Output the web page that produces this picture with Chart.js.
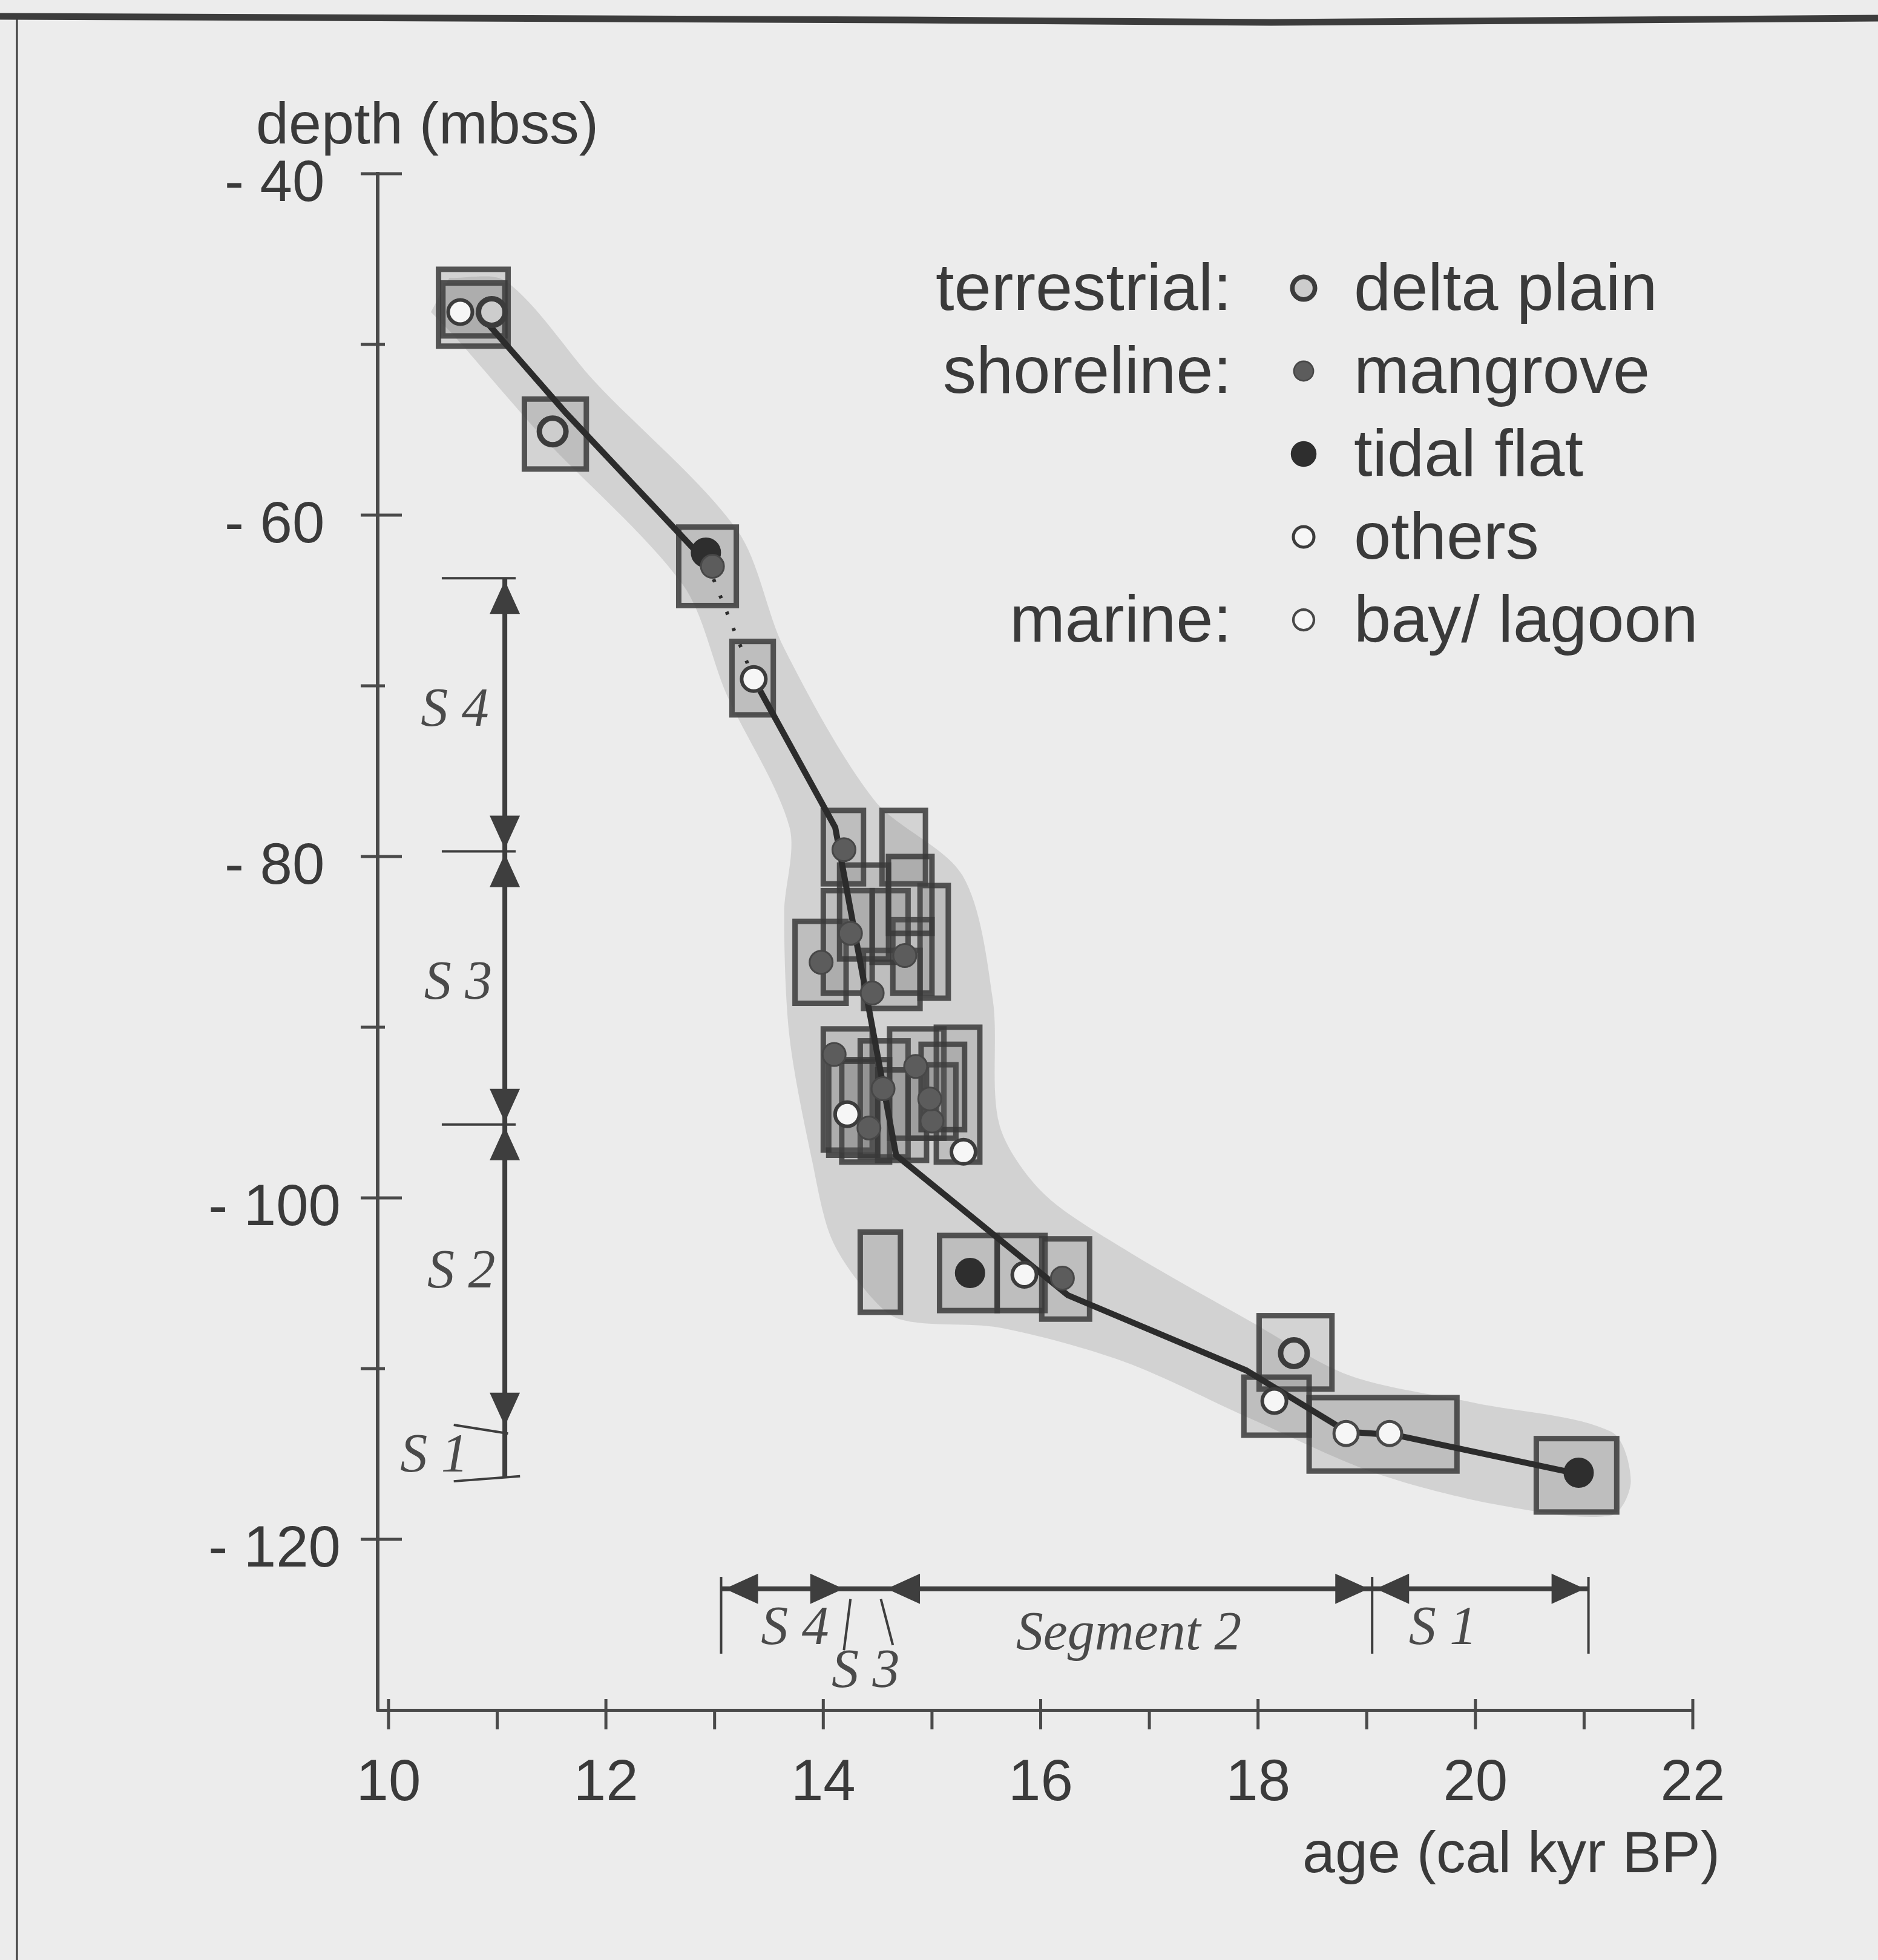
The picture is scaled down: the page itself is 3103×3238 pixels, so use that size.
<!DOCTYPE html>
<html>
<head>
<meta charset="utf-8">
<title>Age-depth curve</title>
<script src="https://cdn.jsdelivr.net/npm/chart.js@4.4.1/dist/chart.umd.min.js"></script>
<style>
    html, body { margin: 0; padding: 0; background: #ececec; }
    #wrap { position: relative; width: 3103px; height: 3238px; }
</style>
</head>
<body>
<div id="wrap"><canvas id="depthChart" width="3103" height="3238"></canvas></div>
<script>
// axis ticks
const ageTicks = [10, 11, 12, 13, 14, 15, 16, 17, 18, 19, 20, 21, 22];
const depthTicks = [-130, -120, -110, -100, -90, -80, -70, -60, -50, -40];

// fitted age-depth curve (cal kyr BP / m below sea surface)
const curveAge   = [10.82, 11.63, 12.93, 13.36, 14.11, 14.67, 16.25, 17.89, 18.82, 19.27, 20.97];
const curveDepth = [-48.1, -54.0, -62.8, -69.6, -78.3, -97.5, -105.7, -110.1, -113.7, -113.9, -116.2];

// outline of the shaded envelope around the curve
const bandAge = [10.56, 11.08, 11.90, 13.21, 13.64, 14.47, 15.28, 15.56, 15.62, 16.02, 16.77, 17.92, 18.84, 19.99, 21.25, 21.43,
                 21.25, 20.22, 19.07, 17.92, 16.77, 15.62, 14.70, 14.36, 14.07, 13.90, 13.69, 13.64, 13.69, 13.11, 12.71, 11.40, 10.59, 10.39];
const bandDepth = [-46.1, -46.3, -52.2, -60.9, -67.8, -76.7, -81.1, -88.4, -95.7, -99.7, -103.0, -107.2, -110.4, -112.0, -113.7, -116.6,
                   -118.6, -118.0, -116.1, -112.9, -109.6, -107.6, -107.1, -105.2, -102.3, -97.9, -90.6, -83.3, -78.3, -70.5, -64.1, -55.3, -49.4, -48.1];

// dating / elevation uncertainty boxes
const boxAgeMin   = [10.46, 10.50, 11.25, 12.67, 13.16, 14.00, 14.54, 13.74, 14.00, 14.89, 14.37, 14.64, 14.45, 14.15, 14.60,
                     14.00, 14.34, 14.61, 15.04, 14.78, 14.17, 14.05, 14.50, 14.90, 14.34, 15.07, 15.60, 16.01, 18.01, 17.87, 18.47, 20.56];
const boxAgeMax   = [11.10, 11.07, 11.82, 13.20, 13.54, 14.37, 14.94, 14.21, 14.45, 15.15, 14.89, 15.00, 14.78, 14.60, 15.00,
                     14.45, 14.78, 15.11, 15.44, 15.22, 14.61, 14.50, 14.95, 15.30, 14.71, 15.60, 16.04, 16.45, 18.68, 18.47, 19.83, 21.30];
const boxDepthTop = [-45.6, -46.4, -53.2, -60.7, -67.4, -77.3, -77.3, -83.8, -82.0, -81.7, -85.5, -83.7, -82.0, -80.5, -80.0,
                     -90.1, -90.8, -90.1, -90.0, -92.2, -91.9, -92.0, -92.5, -91.0, -102.0, -102.2, -102.2, -102.4, -106.9, -110.5, -111.7, -114.1];
const boxDepthBot = [-50.1, -49.5, -57.3, -65.3, -71.7, -81.6, -81.6, -88.6, -88.0, -88.3, -88.9, -88.0, -86.2, -86.0, -84.5,
                     -97.2, -97.6, -96.5, -97.9, -96.5, -97.9, -97.5, -97.8, -96.0, -106.7, -106.6, -106.6, -107.1, -111.2, -113.9, -116.0, -118.4];

// samples by facies
const deltaPlainAge   = [10.95, 11.51, 18.33];
const deltaPlainDepth = [-48.1, -55.1, -109.1];
const mangroveAge     = [12.98, 14.19, 13.98, 14.25, 14.75, 14.45, 14.55, 14.85, 15.00, 14.10, 14.42, 14.98, 16.20];
const mangroveDepth   = [-63.0, -79.6, -86.2, -84.5, -85.8, -88.0, -93.6, -92.3, -95.5, -91.6, -95.9, -94.2, -104.7];
const tidalFlatAge    = [12.92, 15.35, 20.95];
const tidalFlatDepth  = [-62.2, -104.4, -116.1];
const othersAge       = [10.66, 13.36, 14.22, 15.29, 15.85, 18.15];
const othersDepth     = [-48.1, -69.6, -95.1, -97.3, -104.5, -111.9];
const bayLagoonAge    = [18.81, 19.21];
const bayLagoonDepth  = [-113.8, -113.8];

// legend rows
const legendGroups = ['terrestrial:', 'shoreline:', '', '', 'marine:'];
const legendItems  = ['delta plain', 'mangrove', 'tidal flat', 'others', 'bay/ lagoon'];
const legendFacies = ['deltaPlain', 'mangrove', 'tidalFlat', 'others', 'bayLagoon'];

// depth segments (vertical, left) and age segments (horizontal, bottom)
const depthSegAge = 11.07;
const depthSegBounds = [-63.7, -79.7, -95.7, -113.5];
const depthSegBottom = -116.4;
const depthLabelText  = ['S 4', 'S 3', 'S 2', 'S 1'];
const depthLabelAge   = [10.61, 10.64, 10.67, 10.42];
const depthLabelDepth = [-71.5, -87.5, -104.4, -115.2];

const ageSegDepth = -122.9;
const ageSegBounds = [13.06, 14.22, 14.55, 19.05, 21.04];
const ageSegHeads  = [true, false, true, true];
const ageLabelText  = ['S 4', 'S 3', 'Segment 2', 'S 1'];
const ageLabelAge   = [13.74, 14.39, 16.81, 19.70];
const ageLabelDepth = [-125.3, -127.8, -125.6, -125.3];

const FONT = '"Liberation Sans", Arial, Helvetica, sans-serif';
const SERIF = '"Liberation Serif", "Times New Roman", serif';
const INK = '#3a3a3a';
const AXIS = '#4a4a4a';

const faciesStyle = {
    deltaPlain: { r: 22, fill: '#cdcdcd', stroke: '#3c3c3c', w: 9 },
    mangrove:   { r: 19, fill: '#5c5c5c', stroke: '#474747', w: 3 },
    tidalFlat:  { r: 24, fill: '#2e2e2e', stroke: '#2e2e2e', w: 2 },
    others:     { r: 20, fill: '#f6f6f6', stroke: '#3c3c3c', w: 6 },
    bayLagoon:  { r: 20, fill: '#f6f6f6', stroke: '#484848', w: 5 },
};

const xy = (ages, depths) => ages.map((a, i) => ({ x: a, y: depths[i] }));

function pointSet(label, key, ages, depths) {
    const s = faciesStyle[key];
    return {
        label: label,
        data: xy(ages, depths),
        pointRadius: s.r,
        pointBackgroundColor: s.fill,
        pointBorderColor: s.stroke,
        pointBorderWidth: s.w,
        order: 1,
    };
}

function drawLine(ctx, x1, y1, x2, y2) {
    ctx.beginPath();
    ctx.moveTo(x1, y1);
    ctx.lineTo(x2, y2);
    ctx.stroke();
}

function arrowHead(ctx, tx, ty, dx, dy) {
    const len = 55, half = 25;
    const bx = tx - dx * len, by = ty - dy * len;
    ctx.beginPath();
    ctx.moveTo(tx, ty);
    ctx.lineTo(bx - dy * half, by + dx * half);
    ctx.lineTo(bx + dy * half, by - dx * half);
    ctx.closePath();
    ctx.fill();
}

// page frame
const framePlugin = {
    id: 'frame',
    beforeDraw(chart) {
        const ctx = chart.ctx;
        ctx.save();
        ctx.strokeStyle = '#3c3c3c';
        ctx.lineWidth = 11;
        ctx.beginPath();
        ctx.moveTo(0, 27);
        ctx.lineTo(1500, 33);
        ctx.lineTo(2100, 37);
        ctx.lineTo(3103, 30);
        ctx.stroke();
        ctx.lineWidth = 3;
        drawLine(ctx, 28, 28, 28, 3238);
        ctx.restore();
    }
};

// error boxes go under the curve
const boxPlugin = {
    id: 'errorBoxes',
    beforeDatasetDraw(chart, args) {
        if (chart.data.datasets[args.index].label !== 'curve') return;
        const ctx = chart.ctx, sx = chart.scales.x, sy = chart.scales.y;
        ctx.save();
        ctx.lineWidth = 9;
        ctx.strokeStyle = 'rgba(58,58,58,0.85)';
        ctx.fillStyle = 'rgba(90,90,90,0.17)';
        boxAgeMin.forEach((a, i) => {
            const x1 = sx.getPixelForValue(a), x2 = sx.getPixelForValue(boxAgeMax[i]);
            const y1 = sy.getPixelForValue(boxDepthTop[i]), y2 = sy.getPixelForValue(boxDepthBot[i]);
            ctx.fillRect(x1, y1, x2 - x1, y2 - y1);
            ctx.strokeRect(x1, y1, x2 - x1, y2 - y1);
        });
        ctx.restore();
    }
};

// segment arrows and labels
const segmentPlugin = {
    id: 'segments',
    afterDatasetsDraw(chart) {
        const ctx = chart.ctx, sx = chart.scales.x, sy = chart.scales.y;
        const X = v => sx.getPixelForValue(v), Y = v => sy.getPixelForValue(v);
        ctx.save();
        ctx.strokeStyle = '#3e3e3e';
        ctx.fillStyle = '#3e3e3e';

        // vertical segments
        const vx = X(depthSegAge);
        ctx.lineWidth = 8;
        drawLine(ctx, vx, Y(depthSegBounds[0]), vx, Y(depthSegBottom));
        ctx.lineWidth = 4;
        depthSegBounds.slice(0, 3).forEach(d => drawLine(ctx, X(10.49), Y(d), X(11.17), Y(d)));
        drawLine(ctx, X(10.60), Y(-113.3), X(11.10), Y(-113.8));
        drawLine(ctx, X(10.60), Y(-116.6), X(11.21), Y(-116.3));
        for (let i = 0; i < 3; i++) {
            arrowHead(ctx, vx, Y(depthSegBounds[i]) + 4, 0, -1);
            arrowHead(ctx, vx, Y(depthSegBounds[i + 1]) - 4, 0, 1);
        }

        // horizontal segments
        const hy = Y(ageSegDepth);
        ctx.lineWidth = 8;
        drawLine(ctx, X(ageSegBounds[0]), hy, X(ageSegBounds[4]), hy);
        ctx.lineWidth = 4;
        [13.06, 19.05, 21.04].forEach(a => drawLine(ctx, X(a), Y(-122.2), X(a), Y(-126.7)));
        drawLine(ctx, X(14.25), Y(-123.5), X(14.19), Y(-126.5));
        drawLine(ctx, X(14.53), Y(-123.5), X(14.64), Y(-126.2));
        ageSegHeads.forEach((on, i) => {
            if (!on) return;
            arrowHead(ctx, X(ageSegBounds[i]) + 6, hy, -1, 0);
            arrowHead(ctx, X(ageSegBounds[i + 1]) - 6, hy, 1, 0);
        });

        ctx.fillStyle = '#4a4a4a';
        ctx.font = 'italic 90px ' + SERIF;
        ctx.textAlign = 'center';
        ctx.textBaseline = 'middle';
        depthLabelText.forEach((t, i) => ctx.fillText(t, X(depthLabelAge[i]), Y(depthLabelDepth[i])));
        ageLabelText.forEach((t, i) => ctx.fillText(t, X(ageLabelAge[i]), Y(ageLabelDepth[i])));
        ctx.restore();
    }
};

// tick marks crossing the axes, axis titles and legend
const decorPlugin = {
    id: 'decor',
    afterDraw(chart) {
        const ctx = chart.ctx, area = chart.chartArea;
        const sx = chart.scales.x, sy = chart.scales.y;
        ctx.save();
        ctx.strokeStyle = AXIS;
        ctx.lineWidth = 5;
        sy.ticks.forEach(t => {
            if (t.value === sy.min) return;
            const y = sy.getPixelForValue(t.value);
            const major = t.value % 20 === 0;
            drawLine(ctx, area.left - 28, y, area.left + (major ? 40 : 12), y);
        });
        sx.ticks.forEach(t => {
            const x = sx.getPixelForValue(t.value);
            const major = t.value % 2 === 0;
            drawLine(ctx, x, area.bottom - (major ? 18 : 0), x, area.bottom + 32);
        });

        ctx.fillStyle = INK;
        ctx.font = '97px ' + FONT;
        ctx.textBaseline = 'alphabetic';
        ctx.textAlign = 'left';
        ctx.fillText('depth (mbss)', 423, 237);
        ctx.textAlign = 'right';
        ctx.fillText('age (cal kyr BP)', 2842, 3093);

        ctx.font = '110px ' + FONT;
        legendItems.forEach((item, i) => {
            const y = 512 + i * 137;
            if (legendGroups[i]) {
                ctx.textAlign = 'right';
                ctx.fillText(legendGroups[i], 2035, y);
            }
            ctx.textAlign = 'left';
            ctx.fillText(item, 2237, y);
            const s = faciesStyle[legendFacies[i]];
            ctx.beginPath();
            ctx.arc(2154, y - 36, s.r * 0.85, 0, Math.PI * 2);
            ctx.fillStyle = s.fill;
            ctx.fill();
            ctx.lineWidth = s.w * 0.85;
            ctx.strokeStyle = s.stroke;
            ctx.stroke();
            ctx.fillStyle = INK;
        });
        ctx.restore();
    }
};

new Chart(document.getElementById('depthChart'), {
    type: 'scatter',
    data: {
        datasets: [
            {
                label: 'envelope',
                type: 'line',
                data: xy(bandAge, bandDepth),
                fill: 'shape',
                backgroundColor: 'rgba(110,110,110,0.2)',
                borderColor: 'transparent',
                borderWidth: 0,
                pointRadius: 0,
                tension: 0.3,
                order: 4,
            },
            {
                label: 'curve',
                type: 'line',
                data: xy(curveAge, curveDepth),
                borderColor: '#2c2c2c',
                borderWidth: 10,
                pointRadius: 0,
                tension: 0,
                fill: false,
                segment: {
                    borderDash: ctx => ctx.p0DataIndex === 2 ? [5, 24] : undefined,
                    borderWidth: ctx => ctx.p0DataIndex === 2 ? 6 : undefined,
                },
                order: 3,
            },
            pointSet('delta plain', 'deltaPlain', deltaPlainAge, deltaPlainDepth),
            pointSet('mangrove', 'mangrove', mangroveAge, mangroveDepth),
            pointSet('others', 'others', othersAge, othersDepth),
            pointSet('bay/ lagoon', 'bayLagoon', bayLagoonAge, bayLagoonDepth),
            pointSet('tidal flat', 'tidalFlat', tidalFlatAge, tidalFlatDepth),
        ]
    },
    options: {
        responsive: false,
        devicePixelRatio: 1,
        animation: false,
        events: [],
        layout: { padding: { left: 0, top: 287, right: 306, bottom: 113 } },
        plugins: {
            legend: { display: false },
            tooltip: { enabled: false },
        },
        scales: {
            x: {
                type: 'linear',
                min: 9.9,
                max: 22,
                afterBuildTicks: scale => { scale.ticks = ageTicks.map(v => ({ value: v })); },
                afterFit: scale => { scale.height = 300; },
                grid: { display: false, drawTicks: false },
                border: { display: true, color: AXIS, width: 5 },
                ticks: {
                    autoSkip: false,
                    maxRotation: 0,
                    padding: 65,
                    color: INK,
                    font: { family: FONT, size: 96 },
                    callback: v => v % 2 === 0 ? String(v) : '',
                },
            },
            y: {
                type: 'linear',
                min: -130,
                max: -40,
                afterBuildTicks: scale => { scale.ticks = depthTicks.map(v => ({ value: v })); },
                afterFit: scale => { scale.width = 624; },
                grid: { display: false, drawTicks: false },
                border: { display: true, color: AXIS, width: 6 },
                ticks: {
                    autoSkip: false,
                    padding: 61,
                    crossAlign: 'center',
                    labelOffset: 19,
                    color: INK,
                    font: { family: FONT, size: 96 },
                    callback: v => v % 20 === 0 ? '- ' + Math.abs(v) : '',
                },
            },
        },
    },
    plugins: [framePlugin, boxPlugin, segmentPlugin, decorPlugin],
});
</script>
</body>
</html>
